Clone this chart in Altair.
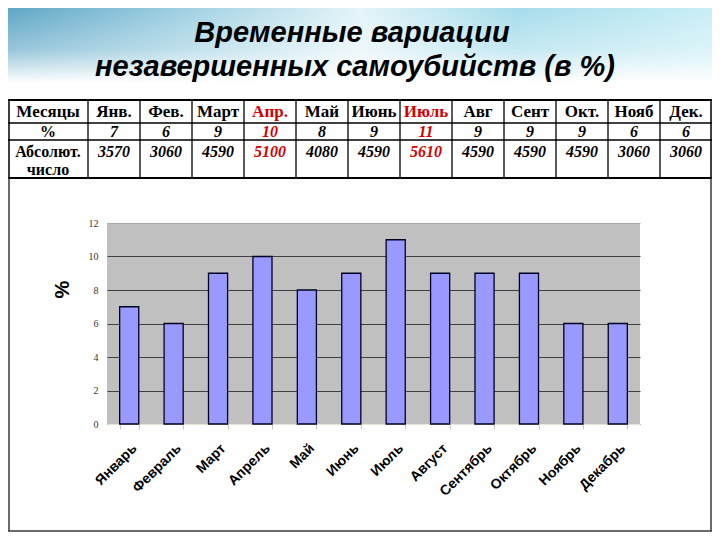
import altair as alt
import pandas as pd

# ---------------- data ----------------
months_full = ["Январь", "Февраль", "Март", "Апрель", "Май", "Июнь", "Июль",
               "Август", "Сентябрь", "Октябрь", "Ноябрь", "Декабрь"]
months_short = ["Янв.", "Фев.", "Март", "Апр.", "Май", "Июнь", "Июль",
                "Авг", "Сент", "Окт.", "Нояб", "Дек."]
percent = [7, 6, 9, 10, 8, 9, 11, 9, 9, 9, 6, 6]
absolute = [3570, 3060, 4590, 5100, 4080, 4590, 5610, 4590, 4590, 4590, 3060, 3060]
highlight = ["Апр.", "Июль"]
title_lines = ["Временные вариации", "незавершенных самоубийств (в %)"]
row_labels = ["Месяцы", "%", "Абсолют.", "число"]
y_ticks = [0, 2, 4, 6, 8, 10, 12]

df = pd.DataFrame({"month": months_full, "short": months_short,
                   "pct": percent, "abs": absolute})
df["hl"] = df["short"].isin(highlight)

# ---------------- layout (pixels relative to the bar plot origin) ----------------
W, H = 533, 201
PAD = {"left": 99, "top": 215, "right": 72, "bottom": 108}
LEFT, RIGHT = -PAD["left"], W + PAD["right"]
TOP, BOTTOM = -PAD["top"], H + PAD["bottom"]
COL1 = -19                      # end of first table column
ROW_LINES = [-123, -100, -83, -45]

RED = "#d40000"
hl_color = {"condition": {"test": "datum.hl", "value": RED}, "value": "black"}

tx = alt.Scale(domain=months_short, range=[COL1, RIGHT], paddingInner=0, paddingOuter=0)
x_tab = alt.X("short:N", scale=tx, axis=None, sort=None)

base = alt.Chart(df)
one = alt.Chart(pd.DataFrame({"k": [0]}))

# header background
header = one.mark_rect(
    fill=alt.Gradient(gradient="linear", x1=0, x2=1, y1=0, y2=0, stops=[
        alt.GradientStop(color="#5fa6c6", offset=0),
        alt.GradientStop(color="#9fd0e2", offset=0.25),
        alt.GradientStop(color="#e4f4f9", offset=0.5),
        alt.GradientStop(color="#a6dceb", offset=0.72),
        alt.GradientStop(color="#c9eef6", offset=1)])
).encode(x=alt.value(LEFT), x2=alt.value(RIGHT), y=alt.value(TOP), y2=alt.value(-140))
header_fade = one.mark_rect(
    fill=alt.Gradient(gradient="linear", x1=0, x2=0, y1=0, y2=1, stops=[
        alt.GradientStop(color="rgba(255,255,255,0)", offset=0),
        alt.GradientStop(color="rgba(255,255,255,0.35)", offset=0.55),
        alt.GradientStop(color="#ffffff", offset=1)])
).encode(x=alt.value(LEFT), x2=alt.value(RIGHT), y=alt.value(TOP), y2=alt.value(-140))

title_style = dict(font="Liberation Sans", fontWeight="bold", fontStyle="italic",
                   fontSize=29, align="center", baseline="alphabetic", color="black")
title1 = one.mark_text(**title_style).encode(
    x=alt.value(245), y=alt.value(-181), text=alt.value(title_lines[0]))
title2 = one.mark_text(**title_style).encode(
    x=alt.value(248), y=alt.value(-147), text=alt.value(title_lines[1]))

# table grid
hlines = [one.mark_rule(color="black", strokeWidth=2 if i in (0, 3) else 1.3).encode(
    x=alt.value(LEFT), x2=alt.value(RIGHT), y=alt.value(v)) for i, v in enumerate(ROW_LINES)]
vlines = base.mark_rule(color="black", strokeWidth=1.3).encode(
    x=alt.X("short:N", scale=tx, axis=None, sort=None, bandPosition=0),
    y=alt.value(ROW_LINES[0]), y2=alt.value(ROW_LINES[3]))
edges = [one.mark_rule(color="black", strokeWidth=1.5).encode(
    x=alt.value(xv), y=alt.value(ROW_LINES[0]), y2=alt.value(ROW_LINES[3]))
    for xv in (LEFT + 1, RIGHT - 1)]

serif = "Liberation Serif"
row1 = base.mark_text(font=serif, fontWeight="bold", fontSize=17, baseline="middle").encode(
    x=x_tab, y=alt.value(-111), text="short:N", color=hl_color)
row2 = base.mark_text(font=serif, fontWeight="bold", fontStyle="italic", fontSize=16,
                      baseline="middle").encode(
    x=x_tab, y=alt.value(-91), text="pct:Q", color=hl_color)
row3 = base.mark_text(font=serif, fontWeight="bold", fontStyle="italic", fontSize=16,
                      baseline="middle").encode(
    x=x_tab, y=alt.value(-71), text="abs:Q", color=hl_color)

lab_x = (LEFT + COL1) / 2
lab_y = [-111, -91, -71, -53]
labels = [one.mark_text(font=serif, fontWeight="bold", fontSize=17 if i == 0 else 16,
                        baseline="middle", color="black").encode(
    x=alt.value(lab_x), y=alt.value(lab_y[i]), text=alt.value(t))
    for i, t in enumerate(row_labels)]

# slide frame
frame = [
    one.mark_rule(color="#3a3a3a", strokeWidth=1.5).encode(
        x=alt.value(LEFT + 1), y=alt.value(-45), y2=alt.value(BOTTOM - 1)),
    one.mark_rule(color="#3a3a3a", strokeWidth=1.5).encode(
        x=alt.value(RIGHT - 1), y=alt.value(-45), y2=alt.value(BOTTOM - 1)),
    one.mark_rule(color="#3a3a3a", strokeWidth=1.5).encode(
        x=alt.value(LEFT), x2=alt.value(RIGHT), y=alt.value(BOTTOM - 1)),
]

# bar chart
bars = base.mark_bar(fill="#9999ff", stroke="#000020", strokeWidth=1.3).encode(
    x=alt.X("month:N", sort=months_full,
            scale=alt.Scale(paddingInner=0.57, paddingOuter=0.285),
            axis=alt.Axis(title=None, labelAngle=-45, labelFont="Liberation Sans",
                          labelFontWeight="bold", labelFontSize=14, labelColor="black",
                          labelPadding=12, domainColor="#e6e6d8", tickColor="#c8c8c8",
                          tickBand="extent", tickSize=5, grid=False)),
    y=alt.Y("pct:Q", scale=alt.Scale(domain=[0, 12], nice=False),
            axis=alt.Axis(values=y_ticks, grid=True,
                          gridColor={"condition": {"test": "datum.value === 12",
                                                   "value": "#a8a8a8"},
                                     "value": "#404040"},
                          gridWidth=1, domain=False, ticks=False,
                          labelFont=serif, labelFontSize=10, labelColor="#333333",
                          labelPadding=9, title="%", titleFont="Liberation Sans",
                          titleFontSize=20, titleFontWeight="bold", titleAngle=270,
                          titleX=-45, titleY=66, titleAlign="center",
                          titleBaseline="middle", titleColor="black")),
)

layers = [header, header_fade, title1, title2] + hlines + [vlines] + edges + \
    [row1, row2, row3] + labels + frame + [bars]

chart = alt.layer(*layers).resolve_scale(x="independent").properties(
    width=W, height=H, padding=PAD,
    autosize=alt.AutoSizeParams(type="none"),
    background="white",
).configure_view(fill="#c0c0c0", stroke=None)

chart.save("out.html", embed_options={"renderer": "svg", "actions": False})
